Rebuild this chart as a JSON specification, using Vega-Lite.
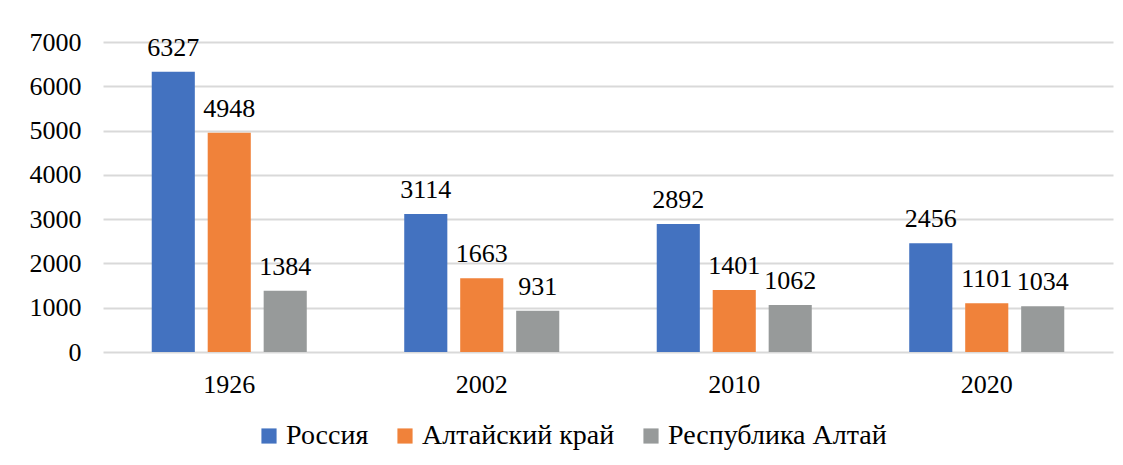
{
  "$schema": "https://vega.github.io/schema/vega-lite/v6.json",
  "width": 1010,
  "height": 310,
  "autosize": {"type": "none"},
  "padding": {"left": 103, "top": 42, "right": 10, "bottom": 113},
  "background": "white",
  "data": {"values": [
    {"year": "1926", "region": "Россия", "value": 6327},
    {"year": "1926", "region": "Алтайский край", "value": 4948},
    {"year": "1926", "region": "Республика Алтай", "value": 1384},
    {"year": "2002", "region": "Россия", "value": 3114},
    {"year": "2002", "region": "Алтайский край", "value": 1663},
    {"year": "2002", "region": "Республика Алтай", "value": 931},
    {"year": "2010", "region": "Россия", "value": 2892},
    {"year": "2010", "region": "Алтайский край", "value": 1401},
    {"year": "2010", "region": "Республика Алтай", "value": 1062},
    {"year": "2020", "region": "Россия", "value": 2456},
    {"year": "2020", "region": "Алтайский край", "value": 1101},
    {"year": "2020", "region": "Республика Алтай", "value": 1034}
  ]},
  "encoding": {
    "x": {"field": "year", "type": "nominal", "title": null,
      "scale": {"paddingInner": 0.386, "paddingOuter": 0.193},
      "axis": {"labelAngle": 0, "labelFont": "Liberation Serif", "labelFontSize": 26, "labelColor": "#000", "ticks": false, "domain": false, "labelPadding": 19}},
    "xOffset": {"field": "region", "type": "nominal", "sort": ["Россия", "Алтайский край", "Республика Алтай"],
      "scale": {"paddingInner": 0.23, "paddingOuter": 0}},
    "y": {"field": "value", "type": "quantitative", "title": null,
      "scale": {"domain": [0, 7000], "nice": false},
      "axis": {"values": [0, 1000, 2000, 3000, 4000, 5000, 6000, 7000], "format": "d", "labelFont": "Liberation Serif", "labelFontSize": 26, "labelColor": "#000", "ticks": false, "domain": false, "labelPadding": 22, "gridColor": "#d9d9d9", "gridWidth": 2}}
  },
  "layer": [
    {"mark": {"type": "bar"},
     "encoding": {
       "color": {"field": "region", "type": "nominal", "title": null,
         "sort": ["Россия", "Алтайский край", "Республика Алтай"],
         "scale": {"domain": ["Россия", "Алтайский край", "Республика Алтай"], "range": ["#4372C0", "#F0823A", "#979A9A"]},
         "legend": {"orient": "none", "direction": "horizontal", "legendX": 152, "legendY": 380,
           "symbolType": "square", "symbolSize": 230, "symbolStrokeWidth": 0, "labelFont": "Liberation Serif", "labelFontSize": 28, "labelColor": "#000", "labelLimit": 0, "columnPadding": 22, "labelOffset": 3}}
     }},
    {"mark": {"type": "text", "baseline": "alphabetic", "dy": -16, "font": "Liberation Serif", "fontSize": 26, "color": "#000"},
     "encoding": {"text": {"field": "value", "type": "quantitative"}}}
  ],
  "config": {"font": "Liberation Serif", "view": {"stroke": null}}
}
